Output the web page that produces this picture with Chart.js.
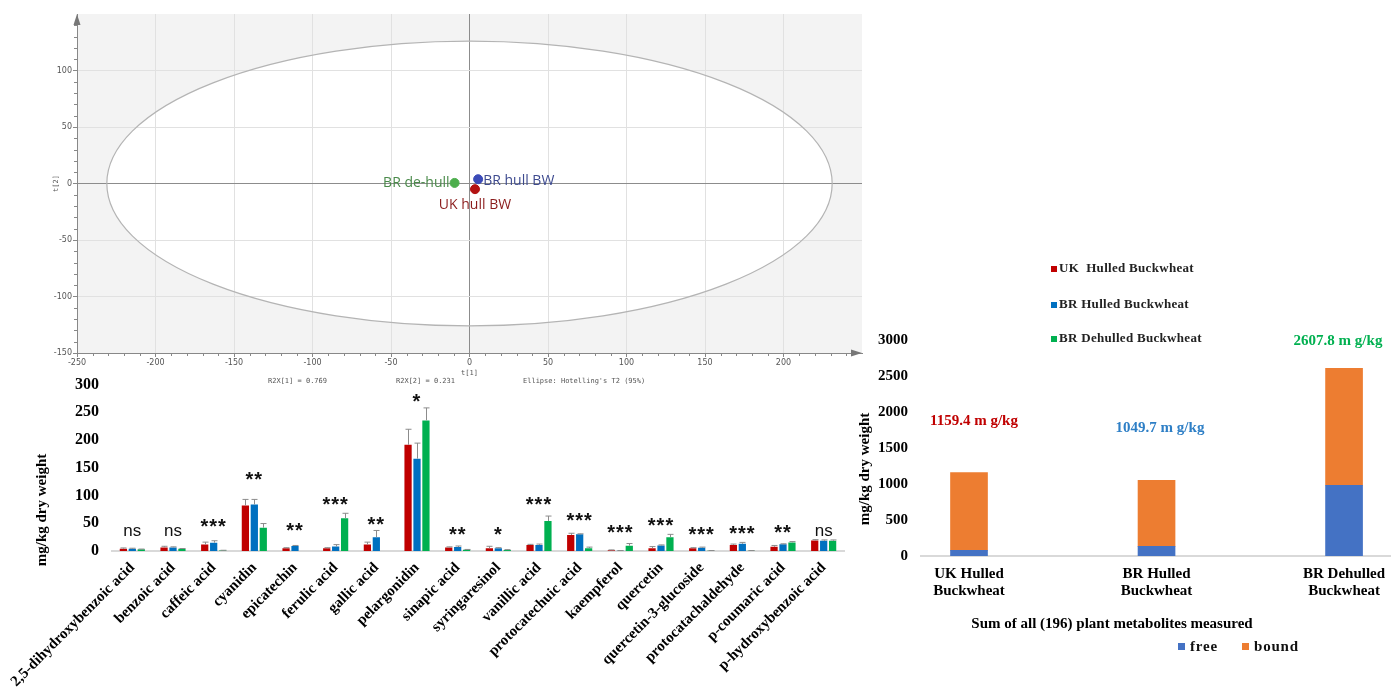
<!DOCTYPE html>
<html>
<head>
<meta charset="utf-8">
<script src="https://cdn.jsdelivr.net/npm/chart.js"></script>
<style>
  body { margin: 0; background: #fff; width: 1395px; height: 687px; overflow: hidden; position: relative; }
  canvas { position: absolute; }
</style>
</head>
<body>
<canvas id="pca" style="left:0;top:0" width="880" height="392"></canvas>
<canvas id="bars" style="left:0;top:370px" width="855" height="317"></canvas>
<canvas id="totals" style="left:850px;top:240px" width="545" height="447"></canvas>
<script>
// ---- PCA score plot ----
const pcaGroups = ['UK hull BW', 'BR hull BW', 'BR de-hull'];
const pcaT1 = [3.5, 5.5, -9.5];
const pcaT2 = [-5, 3.8, 0.5];
const pcaColors = ['#b31212', '#3b4bb8', '#4cae4c'];
const pcaTextColors = ['#8b1c1c', '#3d4a8f', '#4a8a4a'];
const ellipseT1 = 231, ellipseT2 = 126;   // Hotelling's T2 (95%)
const xTicksPca = [-250, -200, -150, -100, -50, 0, 50, 100, 150, 200];
const yTicksPca = [-150, -100, -50, 0, 50, 100];

// ---- individual compounds ----
const compounds = ['2,5-dihydroxybenzoic acid', 'benzoic acid', 'caffeic acid', 'cyanidin', 'epicatechin',
  'ferulic acid', 'gallic acid', 'pelargonidin', 'sinapic acid', 'syringaresinol', 'vanillic acid',
  'protocatechuic acid', 'kaempferol', 'quercetin', 'quercetin-3-glucoside', 'protocatachaldehyde',
  'p-coumaric acid', 'p-hydroxybenzoic acid'];
const groups = ['UK  Hulled Buckwheat', 'BR Hulled Buckwheat', 'BR Dehulled Buckwheat'];
const groupColors = ['#c00000', '#0070c0', '#00b050'];
const ukHulled   = [4, 6.5, 11.5, 82, 5, 5, 11.5, 191.5, 6.5, 5, 11, 29, 1.5, 5, 5, 11, 7.5, 19];
const ukErr      = [1.5, 2, 4.5, 11, 1, 1, 4.5, 28, 1, 3.5, 1, 3, 0.5, 3, 1, 1.5, 2.5, 1.5];
const brHulled   = [4, 6.5, 15, 84, 9, 8, 25, 166.5, 7, 5, 11, 30, 0.6, 10, 6, 13, 12, 18.5];
const brErr      = [1, 1, 3.5, 9, 1, 3.5, 12, 28, 2, 1, 1.5, 1, 0.3, 1, 1, 2.5, 1, 1.5];
const brDehulled = [3, 4, 1, 42, 0, 59, 0, 235.5, 2.3, 2, 54, 5, 9.5, 25, 0.6, 0.6, 15.5, 18.5];
const brDeErr    = [0.5, 0.5, 0.3, 7.5, 0, 9, 0, 22.5, 0.5, 0.5, 9, 2, 4, 5, 0.3, 0.3, 1.5, 1.5];
const significance = ['ns', 'ns', '***', '**', '**', '***', '**', '*', '**', '*', '***', '***', '***', '***', '***', '***', '**', 'ns'];

// ---- sum of all metabolites ----
const sampleNames = [['UK Hulled', 'Buckwheat'], ['BR Hulled', 'Buckwheat'], ['BR Dehulled', 'Buckwheat']];
const freeTotals  = [79, 134, 983];
const boundTotals = [1080.4, 915.7, 1624.8];
const totalTexts  = ['1159.4 m g/kg', '1049.7 m g/kg', '2607.8 m g/kg'];
const totalColors = ['#c00000', '#2e7fc6', '#00b050'];

const serif = "'Liberation Serif', 'Times New Roman', serif";

// ================= PCA =================
const pcaPlugin = {
  id: 'pcaPlugin',
  beforeDraw(chart) {
    const { ctx, chartArea: a, scales: { x, y } } = chart;
    ctx.save();
    ctx.fillStyle = '#f3f3f3';
    ctx.fillRect(a.left, a.top, a.right - a.left, a.bottom - a.top);
    const cx = x.getPixelForValue(0), cy = y.getPixelForValue(0);
    ctx.beginPath();
    ctx.ellipse(cx, cy, x.getPixelForValue(ellipseT1) - cx, cy - y.getPixelForValue(ellipseT2), 0, 0, Math.PI * 2);
    ctx.fillStyle = '#fff';
    ctx.fill();
    ctx.restore();
  },
  beforeDatasetsDraw(chart) {
    const { ctx, scales: { x, y } } = chart;
    const cx = x.getPixelForValue(0), cy = y.getPixelForValue(0);
    ctx.save();
    ctx.beginPath();
    ctx.ellipse(cx, cy, x.getPixelForValue(ellipseT1) - cx, cy - y.getPixelForValue(ellipseT2), 0, 0, Math.PI * 2);
    ctx.strokeStyle = '#b4b4b4';
    ctx.lineWidth = 1.2;
    ctx.stroke();
    ctx.restore();
  },
  afterDraw(chart) {
    const { ctx, chartArea: a, scales: { x, y } } = chart;
    ctx.save();
    ctx.strokeStyle = '#888';
    ctx.lineWidth = 1;
    // minor ticks every 10
    ctx.beginPath();
    for (let v = -240; v < 250; v += 10) {
      if (v % 50 === 0) continue;
      const px = Math.round(x.getPixelForValue(v)) + 0.5;
      ctx.moveTo(px, a.bottom); ctx.lineTo(px, a.bottom + 3);
    }
    for (let v = -140; v < 150; v += 10) {
      if (v % 50 === 0) continue;
      const py = Math.round(y.getPixelForValue(v)) + 0.5;
      ctx.moveTo(a.left, py); ctx.lineTo(a.left - 3, py);
    }
    ctx.stroke();
    // arrows
    ctx.fillStyle = '#777';
    ctx.beginPath();
    ctx.moveTo(a.left, a.top); ctx.lineTo(a.left - 3.5, a.top + 11); ctx.lineTo(a.left + 3.5, a.top + 11);
    ctx.fill();
    ctx.beginPath();
    ctx.moveTo(a.right, a.bottom); ctx.lineTo(a.right - 11, a.bottom - 3.5); ctx.lineTo(a.right - 11, a.bottom + 3.5);
    ctx.fill();
    // axis names and footer
    ctx.fillStyle = '#555';
    ctx.font = "7px 'DejaVu Sans Mono', monospace";
    ctx.textAlign = 'center';
    ctx.textBaseline = 'middle';
    ctx.fillText('t[1]', x.getPixelForValue(0), 373);
    ctx.textAlign = 'left';
    ctx.fillText('R2X[1] = 0.769', 268, 381);
    ctx.fillText('R2X[2] = 0.231', 396, 381);
    ctx.fillText("Ellipse: Hotelling's T2 (95%)", 523, 381);
    ctx.save();
    ctx.translate(56, y.getPixelForValue(0));
    ctx.rotate(-Math.PI / 2);
    ctx.textAlign = 'center';
    ctx.fillText('t[2]', 0, 0);
    ctx.restore();
    // point labels
    ctx.font = "14px 'Open Sans', 'Noto Sans', sans-serif";
    chart.data.datasets.forEach((ds, i) => {
      const pt = chart.getDatasetMeta(i).data[0];
      ctx.fillStyle = pcaTextColors[i];
      if (i === 0) { ctx.textAlign = 'center'; ctx.fillText(ds.label, pt.x, pt.y + 16); }
      if (i === 1) { ctx.textAlign = 'left'; ctx.fillText(ds.label, pt.x + 5, pt.y + 2); }
      if (i === 2) { ctx.textAlign = 'right'; ctx.fillText(ds.label, pt.x - 5, pt.y + 0.5); }
    });
    ctx.restore();
  }
};

new Chart(document.getElementById('pca'), {
  type: 'scatter',
  data: {
    datasets: pcaGroups.map((g, i) => ({
      label: g,
      data: [{ x: pcaT1[i], y: pcaT2[i] }],
      backgroundColor: pcaColors[i],
      borderColor: pcaColors[i],
      pointRadius: 4.5
    }))
  },
  options: {
    responsive: false,
    animation: false,
    devicePixelRatio: 1,
    layout: { padding: { top: 14, right: 18 } },
    plugins: { legend: { display: false }, tooltip: { enabled: false } },
    scales: {
      x: {
        type: 'linear', min: -250, max: 250,
        afterBuildTicks: s => { s.ticks = xTicksPca.map(v => ({ value: v })); },
        afterFit: s => { s.height = 39; },
        ticks: { font: { size: 8, family: "'DejaVu Sans', sans-serif" }, color: '#555', padding: 1 },
        grid: { color: c => (c.tick && c.tick.value === 0 ? '#8c8c8c' : '#e1e1e1'), tickLength: 4, tickColor: '#888' },
        border: { color: '#888' }
      },
      y: {
        type: 'linear', min: -150, max: 150,
        afterBuildTicks: s => { s.ticks = yTicksPca.map(v => ({ value: v })); },
        afterFit: s => { s.width = 77; },
        ticks: { font: { size: 8, family: "'DejaVu Sans', sans-serif" }, color: '#555', padding: 1 },
        grid: { color: c => (c.tick && c.tick.value === 0 ? '#8c8c8c' : '#e1e1e1'), tickLength: 4, tickColor: '#888' },
        border: { color: '#888' }
      }
    }
  },
  plugins: [pcaPlugin]
});

// ================= compound bars =================
const barExtras = {
  id: 'barExtras',
  afterDatasetsDraw(chart, args, opts) {
    const { ctx, scales: { x, y } } = chart;
    ctx.save();
    ctx.strokeStyle = '#8c8c8c';
    ctx.lineWidth = 1;
    chart.data.datasets.forEach((ds, i) => {
      chart.getDatasetMeta(i).data.forEach((bar, j) => {
        const v = ds.data[j], e = ds.errors[j];
        if (!v || !e) return;
        const top = y.getPixelForValue(v + e);
        const bx = Math.round(bar.x) + 0.5;
        ctx.beginPath();
        ctx.moveTo(bx, bar.y); ctx.lineTo(bx, top);
        ctx.moveTo(bx - 3, top); ctx.lineTo(bx + 3, top);
        ctx.stroke();
      });
    });
    // significance marks
    ctx.fillStyle = '#111';
    ctx.textAlign = 'center';
    ctx.textBaseline = 'alphabetic';
    significance.forEach((s, j) => {
      const cx = x.getPixelForValue(j);
      const cy = y.getPixelForValue(opts.at[j]);
      if (s === 'ns') {
        ctx.font = "17px 'Liberation Sans', Arial, sans-serif";
        ctx.fillText(s, cx, cy + 5);
      } else {
        ctx.font = "bold 20px 'Liberation Sans', Arial, sans-serif";
        ctx.letterSpacing = '1px';
        ctx.fillText(s, cx, cy + 5);
        ctx.letterSpacing = '0px';
      }
    });
    // y axis title
    ctx.save();
    ctx.translate(42, 140);
    ctx.rotate(-Math.PI / 2);
    ctx.font = 'bold 15px ' + serif;
    ctx.fillStyle = '#000';
    ctx.textBaseline = 'middle';
    ctx.fillText('mg/kg dry weight', 0, 0);
    ctx.restore();
    ctx.restore();
  }
};

new Chart(document.getElementById('bars'), {
  type: 'bar',
  data: {
    labels: compounds,
    datasets: [
      { label: groups[0], data: ukHulled, errors: ukErr, backgroundColor: groupColors[0] },
      { label: groups[1], data: brHulled, errors: brErr, backgroundColor: groupColors[1] },
      { label: groups[2], data: brDehulled, errors: brDeErr, backgroundColor: groupColors[2] }
    ]
  },
  options: {
    responsive: false,
    animation: false,
    devicePixelRatio: 1,
    layout: { padding: { top: 9, right: 11 } },
    datasets: { bar: { categoryPercentage: 0.66, barPercentage: 0.81 } },
    plugins: {
      legend: { display: false }, tooltip: { enabled: false },
      barExtras: { at: [36.6, 36.6, 41.9, 125.6, 34.9, 82, 45.3, 266.9, 27.9, 27.9, 82, 52.3, 31.4, 43.6, 27.9, 29.7, 31.4, 36.6] }
    },
    scales: {
      x: {
        afterFit: s => { s.height = 136; },
        ticks: { autoSkip: false, minRotation: 45, maxRotation: 45, padding: 0, color: '#000', font: { family: serif, size: 15, weight: 'bold' } },
        grid: { display: false },
        border: { color: '#d9d9d9', width: 2 }
      },
      y: {
        min: 0, max: 300,
        afterFit: s => { s.width = 112; },
        ticks: { stepSize: 50, padding: 5, color: '#000', font: { family: serif, size: 16, weight: 'bold' } },
        grid: { display: false },
        border: { display: false }
      }
    }
  },
  plugins: [barExtras]
});

// ================= totals =================
const totalsExtras = {
  id: 'totalsExtras',
  afterDraw(chart) {
    const { ctx } = chart;
    ctx.save();
    ctx.textBaseline = 'middle';
    // legend for the compound bars
    ctx.font = 'bold 13px ' + serif;
    ctx.textAlign = 'left';
    [29, 65, 99].forEach((ly, i) => {
      ctx.fillStyle = groupColors[i];
      ctx.fillRect(201, ly - 3, 6, 6);
      ctx.fillStyle = '#222';
      ctx.letterSpacing = '0.3px';
      ctx.fillText(groups[i], 209, ly);
    });
    ctx.letterSpacing = '0px';
    // totals above bars
    ctx.font = 'bold 15px ' + serif;
    ctx.textAlign = 'center';
    [[124, 181], [310, 188], [488, 101]].forEach((p, i) => {
      ctx.fillStyle = totalColors[i];
      ctx.fillText(totalTexts[i], p[0], p[1]);
    });
    // axis titles
    ctx.fillStyle = '#000';
    ctx.font = 'bold 15px ' + serif;
    ctx.fillText('Sum of all (196) plant metabolites measured', 262, 384);
    ctx.save();
    ctx.translate(15, 229);
    ctx.rotate(-Math.PI / 2);
    ctx.font = 'bold 15px ' + serif;
    ctx.fillText('mg/kg dry weight', 0, 0);
    ctx.restore();
    // free / bound legend
    ctx.font = 'bold 15px ' + serif;
    ctx.textAlign = 'left';
    chart.data.datasets.forEach((ds, i) => {
      const lx = i === 0 ? 328 : 392;
      ctx.fillStyle = ds.backgroundColor;
      ctx.fillRect(lx, 403, 7, 7);
      ctx.fillStyle = '#111';
      ctx.letterSpacing = '0.8px';
      ctx.fillText(ds.label, lx + 12, 407);
    });
    ctx.restore();
  }
};

new Chart(document.getElementById('totals'), {
  type: 'bar',
  data: {
    datasets: [
      { label: 'free', data: freeTotals.map((v, i) => ({ x: i, y: v })), backgroundColor: '#4472c4' },
      { label: 'bound', data: boundTotals.map((v, i) => ({ x: i, y: v })), backgroundColor: '#ed7d31' }
    ]
  },
  options: {
    responsive: false,
    animation: false,
    devicePixelRatio: 1,
    layout: { padding: { top: 100, right: 5 } },
    datasets: { bar: { barThickness: 37 } },
    plugins: { legend: { display: false }, tooltip: { enabled: false } },
    scales: {
      x: {
        type: 'linear', min: -0.256, max: 2.245, stacked: true, offset: false,
        afterBuildTicks: s => { s.ticks = sampleNames.map((n, i) => ({ value: i })); },
        afterFit: s => { s.height = 131; },
        ticks: { callback: v => sampleNames[v], padding: 1, color: '#000', font: { family: serif, size: 15, weight: 'bold', lineHeight: 1.15 } },
        grid: { display: false },
        border: { color: '#d9d9d9', width: 2 }
      },
      y: {
        min: 0, max: 3000, stacked: true,
        afterFit: s => { s.width = 71; },
        ticks: { stepSize: 500, padding: 5, color: '#000', callback: v => String(v), font: { family: serif, size: 15, weight: 'bold' } },
        grid: { display: false },
        border: { display: false }
      }
    }
  },
  plugins: [totalsExtras]
});
</script>
</body>
</html>
